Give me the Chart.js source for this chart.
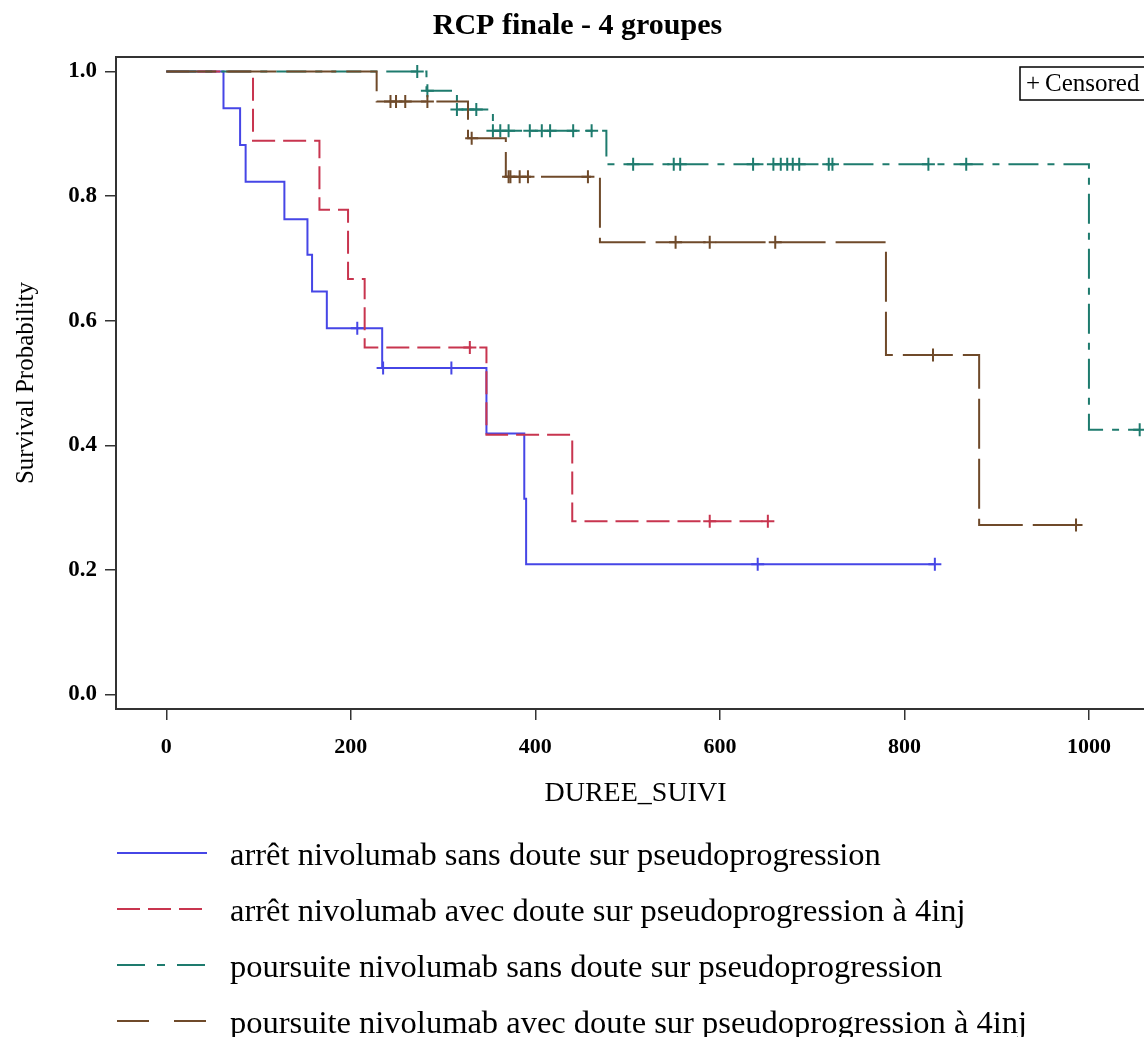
<!DOCTYPE html>
<html>
<head>
<meta charset="utf-8">
<script src="https://cdn.jsdelivr.net/npm/chart.js@4"></script>
<style>
  html, body { margin: 0; padding: 0; background: #fff; overflow: hidden; }
  #wrap { width: 1144px; height: 1037px; overflow: hidden; }
</style>
</head>
<body>
<div id="wrap"><canvas id="km" width="1170" height="1037"></canvas></div>
<script>
// axis ticks
const xTicks = [0, 200, 400, 600, 800, 1000];
const yTicks = [0, 0.2, 0.4, 0.6, 0.8, 1.0];

const groupLabels = [
  "arrêt nivolumab sans doute sur pseudoprogression",
  "arrêt nivolumab avec doute sur pseudoprogression à 4inj",
  "poursuite nivolumab sans doute sur pseudoprogression",
  "poursuite nivolumab avec doute sur pseudoprogression à 4inj"
];

// group 1 - blue
const blueTimes = [0, 62, 80, 86, 128, 153, 158, 174, 234, 347, 388, 390, 833];
const blueSurv = [1, 0.941, 0.882, 0.823, 0.763, 0.706, 0.647, 0.588, 0.524, 0.419, 0.314, 0.209, 0.209];
const blueCensor = [207, 235, 309, 641, 833];

// group 2 - red
const redTimes = [0, 94, 166, 197, 215, 347, 440, 652];
const redSurv = [1, 0.889, 0.778, 0.667, 0.557, 0.417, 0.278, 0.278];
const redCensor = [329, 589, 652];

// group 3 - teal
const tealTimes = [0, 282, 315, 354, 477, 1000, 1055];
const tealSurv = [1, 0.969, 0.939, 0.905, 0.851, 0.425, 0.425];
const tealCensor = [272, 283, 315, 327, 336, 354, 362, 371, 394, 407, 416, 441, 461, 506,
  550, 557, 636, 658, 666, 673, 679, 686, 718, 722, 826, 867, 1055];

// group 4 - brown
const brownTimes = [0, 228, 327, 368, 470, 780, 881, 986];
const brownSurv = [1, 0.952, 0.893, 0.831, 0.726, 0.545, 0.272, 0.272];
const brownCensor = [243, 249, 259, 283, 331, 371, 373, 383, 392, 457, 552, 589, 660, 831, 986];

Chart.defaults.font.family = "'Liberation Serif', 'Times New Roman', serif";
Chart.defaults.color = '#000';

function survAt(times, surv, t) {
  let s = surv[0];
  for (let i = 0; i < times.length; i++) {
    if (times[i] <= t) s = surv[i];
  }
  return s;
}

function curve(label, times, surv, color, dash, legendDash, order) {
  return {
    type: 'line',
    label: label,
    isCurve: true,
    data: times.map((t, i) => ({ x: t, y: surv[i] })),
    stepped: 'before',
    borderColor: color,
    borderWidth: 2,
    borderDash: dash,
    legendDash: legendDash,
    pointRadius: 0,
    fill: false,
    order: order
  };
}

function censored(times, surv, censorTimes, color, order) {
  return {
    type: 'line',
    showLine: false,
    data: censorTimes.map(t => ({ x: t, y: survAt(times, surv, t) })),
    pointStyle: 'cross',
    pointRadius: 6.5,
    borderColor: color,
    borderWidth: 2,
    order: order
  };
}

const blue = '#4646e6', red = '#c8354f', teal = '#1e7b6e', brown = '#6f4a2a';

// frame around the plot area
const frame = {
  id: 'frame',
  beforeDatasetsDraw(chart) {
    const { ctx, chartArea: a } = chart;
    ctx.save();
    ctx.strokeStyle = '#333';
    ctx.lineWidth = 2;
    ctx.strokeRect(a.left, a.top, a.right - a.left, a.bottom - a.top);
    ctx.restore();
  }
};

// "+ Censored" box
const censorBox = {
  id: 'censorBox',
  afterDraw(chart) {
    const { ctx, chartArea: a } = chart;
    const bx = a.right - 135, by = a.top + 10;
    ctx.save();
    ctx.fillStyle = '#fff';
    ctx.fillRect(bx, by, 130, 33);
    ctx.lineWidth = 1.5;
    ctx.strokeStyle = '#000';
    ctx.strokeRect(bx, by, 130, 33);
    ctx.fillStyle = '#000';
    ctx.textBaseline = 'middle';
    ctx.font = "25px 'Liberation Serif'";
    ctx.fillText('+', bx + 6, by + 17);
    ctx.fillText('Censored', bx + 25, by + 17);
    ctx.restore();
  }
};

// legend below the axis, one row per group
const kmLegend = {
  id: 'kmLegend',
  afterDraw(chart) {
    const { ctx, chartArea: a } = chart;
    const x0 = a.left + 1;
    ctx.save();
    ctx.font = "32.5px 'Liberation Serif'";
    ctx.textBaseline = 'middle';
    chart.data.datasets.filter(d => d.isCurve).forEach((d, i) => {
      const y = a.bottom + 144 + i * 56;
      ctx.beginPath();
      ctx.setLineDash(d.legendDash);
      ctx.strokeStyle = d.borderColor;
      ctx.lineWidth = 2;
      ctx.moveTo(x0, y);
      ctx.lineTo(x0 + 90, y);
      ctx.stroke();
      ctx.setLineDash([]);
      ctx.fillStyle = '#000';
      ctx.fillText(d.label, x0 + 113, y + 3);
    });
    ctx.restore();
  }
};

new Chart(document.getElementById('km'), {
  type: 'line',
  data: {
    datasets: [
      curve(groupLabels[0], blueTimes, blueSurv, blue, [], [], 4),
      curve(groupLabels[1], redTimes, redSurv, red, [23, 8], [23, 8], 3),
      curve(groupLabels[2], tealTimes, tealSurv, teal, [30, 9, 7, 9], [28, 12, 8, 12], 2),
      curve(groupLabels[3], brownTimes, brownSurv, brown, [50, 10], [32, 25], 1),
      censored(blueTimes, blueSurv, blueCensor, blue, 4),
      censored(redTimes, redSurv, redCensor, red, 3),
      censored(tealTimes, tealSurv, tealCensor, teal, 2),
      censored(brownTimes, brownSurv, brownCensor, brown, 1)
    ]
  },
  options: {
    responsive: false,
    animation: false,
    devicePixelRatio: 1,
    events: [],
    layout: { padding: { left: 0, right: 15, top: 0, bottom: 227 } },
    plugins: {
      legend: { display: false },
      tooltip: { enabled: false },
      title: {
        display: true,
        text: 'RCP finale - 4 groupes',
        color: '#000',
        font: { size: 30, weight: 'bold' },
        padding: { top: 8, bottom: 13 }
      }
    },
    scales: {
      x: {
        type: 'linear',
        min: -54.5,
        max: 1071.6,
        afterBuildTicks: s => { s.ticks = xTicks.map(v => ({ value: v })); },
        afterFit: s => { s.height = 101; },
        grid: { drawOnChartArea: false, drawTicks: true, tickLength: 11, color: '#333', lineWidth: 1.5 },
        border: { display: false },
        ticks: { padding: 14, color: '#000', font: { size: 22, weight: 'bold' }, callback: v => String(v) },
        title: { display: true, text: 'DUREE_SUIVI', color: '#000', font: { size: 28 }, padding: { top: 0, bottom: 0 } }
      },
      y: {
        min: -0.0233,
        max: 1.0233,
        afterBuildTicks: s => { s.ticks = yTicks.map(v => ({ value: v })); },
        afterFit: s => { s.width = 116; },
        grid: { drawOnChartArea: false, drawTicks: true, tickLength: 11, color: '#333', lineWidth: 1.5 },
        border: { display: false },
        ticks: { padding: 8, color: '#000', font: { size: 23, weight: 'bold' }, callback: v => v.toFixed(1) },
        title: { display: true, text: 'Survival Probability', color: '#000', font: { size: 25 }, padding: { top: 11, bottom: 0 } }
      }
    }
  },
  plugins: [frame, censorBox, kmLegend]
});
</script>
</body>
</html>
